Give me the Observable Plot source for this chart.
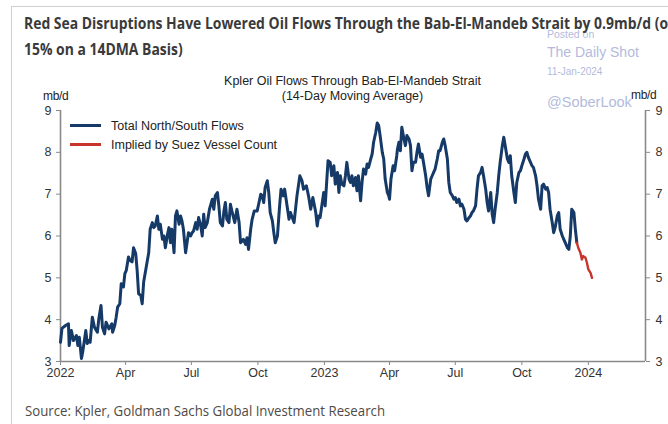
<!DOCTYPE html>
<html>
<head>
<meta charset="utf-8">
<script src="https://cdn.jsdelivr.net/npm/d3@7"></script>
<script src="https://cdn.jsdelivr.net/npm/@observablehq/plot@0.6"></script>
<style>
  html, body { margin: 0; padding: 0; background: #fff; }
  body { width: 668px; height: 424px; position: relative; overflow: hidden;
         font-family: "Liberation Sans", Arial, sans-serif; }
  #frame { position: absolute; left: 11px; top: 6px; width: 700px; height: 460px;
           border-top: 1px solid #cfcfcf; border-left: 1px solid #cfcfcf; }
  .gs { font-family: "Open Sans", "Noto Sans", "Liberation Sans", sans-serif; transform-origin: 0 0; }
  #title { position: absolute; left: 24px; top: 10px; z-index: 3;
           font-size: 15.5px; font-weight: bold; line-height: 26px; color: #3a3a3a; white-space: nowrap; }
  #title div { white-space: nowrap; }
  .wm { position: absolute; left: 547px; color: #b3bbdd; white-space: nowrap; z-index: 1; }
  #chart { position: absolute; left: 0; top: 66px; z-index: 2; }
  .sub { position: absolute; left: 60px; width: 585px; text-align: center; font-size: 12.5px; color: #222; z-index: 4; }
  .unit { position: absolute; font-size: 12px; color: #222; letter-spacing: -0.3px; z-index: 4; }
  .leg { position: absolute; left: 70px; font-size: 12.5px; color: #222; z-index: 4; white-space: nowrap; }
  .leg span.sw { display: inline-block; width: 31px; height: 2.6px; vertical-align: middle; margin-right: 10px; position: relative; top: -1px; }
  #source { position: absolute; left: 25px; top: 401px; font-size: 14px; color: #4f4a46; white-space: nowrap; z-index: 4; }
</style>
</head>
<body>
<div id="frame"></div>
<div class="wm" style="top:28px;font-size:10.5px;">Posted on</div>
<div class="wm" style="top:44px;font-size:14px;">The Daily Shot</div>
<div class="wm" style="top:66px;font-size:10px;">11-Jan-2024</div>
<div class="wm" style="top:94px;font-size:14.5px;">@SoberLook</div>
<div id="title" class="gs"></div>
<div id="chart"></div>
<div class="sub" style="top:74px;">Kpler Oil Flows Through Bab-El-Mandeb Strait</div>
<div class="sub" style="top:89px;">(14-Day Moving Average)</div>
<div class="unit" style="left:43px;top:89px;">mb/d</div>
<div class="unit" style="left:631px;top:88px;">mb/d</div>
<div id="legend"></div>
<div id="source" class="gs"></div>
<script>
// Text
const titleLines = [
  "Red Sea Disruptions Have Lowered Oil Flows Through the Bab-El-Mandeb Strait by 0.9mb/d (or",
  "15% on a 14DMA Basis)"
];
const sourceText = "Source: Kpler, Goldman Sachs Global Investment Research";
const seriesNames = ["Total North/South Flows", "Implied by Suez Vessel Count"];
const seriesColors = ["#153a68", "#c8352c"];

// Axis ticks
const yTicks = [3, 4, 5, 6, 7, 8, 9];
const xTickDates = ["2022-01-01", "2022-04-01", "2022-07-01", "2022-10-01", "2023-01-01",
                    "2023-04-01", "2023-07-01", "2023-10-01", "2024-01-01"];
const xTickLabels = ["2022", "Apr", "Jul", "Oct", "2023", "Apr", "Jul", "Oct", "2024"];
const xDomain = ["2022-01-01", "2024-03-20"];

// Total North/South flows, 14-day moving average (mb/d), by days since 1 Jan 2022
const totalDays = [0,2,7,11,12,15,18,22,24,26,29,31,35,37,39,41,44,47,51,53,56,58,61,63,67,71,72,75,77,79,
  82,84,87,89,91,94,96,99,101,104,106,108,111,113,115,120,122,124,127,129,131,134,136,138,141,143,145,148,150,152,
  154,157,159,161,164,166,168,170,173,175,177,180,182,184,187,189,191,194,196,198,200,203,206,210,212,214,217,219,221,224,
  226,228,230,233,235,237,241,244,247,249,253,256,258,260,263,265,268,272,274,277,279,281,283,286,288,290,293,295,297,300,
  303,305,308,310,312,316,318,323,327,331,334,336,340,343,346,349,353,355,357,359,364,366,370,373,375,378,380,383,385,387,
  389,392,394,396,399,401,403,405,408,410,412,415,417,419,422,424,426,429,431,433,436,438,440,442,445,447,449,452,454,455,
  457,460,462,465,466,468,470,472,475,477,479,482,484,486,488,491,493,495,498,500,502,505,507,509,512,514,516,518,521,523,
  525,528,530,532,535,537,539,542,544,546,548,551,553,555,558,560,562,565,567,569,571,574,576,578,581,583,585,588,590,592,
  595,597,599,601,604,606,608,611,613,615,618,620,622,624,627,629,631,634,636,638,641,643,645,647,650,652,654,657,659,661,
  664,666,668,671,673,675,677,680,682,684,687,689,691,694,696,698,701,703,705,707,710,712,714];
const totalFlows = [3.46,3.79,3.86,3.9,3.38,3.74,3.5,3.62,3.38,3.58,3.07,3.26,3.74,3.43,3.5,3.46,4.06,3.82,3.7,4.02,
  4.34,3.82,3.66,3.94,3.78,3.9,3.7,3.86,4.06,4.3,4.38,4.86,4.78,5.1,5.18,5.5,5.42,5.38,5.72,5.58,
  5.18,4.62,4.58,4.38,4.9,5.4,5.6,6.16,6.32,6.2,6.24,6.48,6.16,6.28,5.92,6.0,5.72,6.04,6.2,5.84,
  6.16,5.6,6.48,6.6,6.28,6.48,6.36,6.16,5.6,5.84,6.08,6.0,6.08,6.12,6.32,6.16,6.44,6.24,6.0,6.52,
  6.2,6.32,6.64,6.88,6.64,6.96,7.04,6.72,6.32,6.24,6.6,6.8,6.4,6.32,6.76,6.6,6.32,6.64,6.32,5.84,
  5.92,5.8,5.96,5.68,6.16,6.4,6.6,6.6,6.76,7.0,6.96,6.8,7.16,7.32,7.04,6.56,6.36,6.08,5.84,6.0,
  6.72,7.12,6.96,7.12,6.88,6.4,6.56,6.32,6.96,7.44,7.32,7.12,7.2,6.96,6.64,6.92,6.56,6.24,6.48,6.44,
  7.04,6.72,7.8,7.76,7.44,7.68,7.24,7.52,7.04,7.44,7.24,7.2,7.44,7.76,7.36,7.28,7.44,7.2,7.4,7.08,
  7.44,6.84,7.28,7.6,7.48,7.72,7.64,7.84,7.96,8.24,8.48,8.7,8.64,8.4,8.0,7.84,7.36,7.04,6.96,6.88,
  7.36,7.68,7.56,7.92,8.08,8.24,8.04,8.6,8.32,8.16,8.4,8.32,8.16,7.56,7.76,7.76,8.0,8.2,7.88,7.96,
  7.76,7.44,7.16,6.96,7.36,7.44,7.52,7.6,7.84,8.04,8.04,8.24,8.32,8.16,7.84,7.28,7.04,6.96,6.88,6.92,
  6.8,6.88,6.72,6.76,6.64,6.4,6.36,6.44,6.48,6.56,6.6,6.72,7.12,7.44,7.52,7.64,7.44,7.12,6.8,6.6,
  7.04,6.52,6.32,6.64,7.04,7.44,7.76,8.16,8.36,8.16,7.84,7.76,7.92,7.44,7.04,6.8,7.28,7.52,7.56,7.68,
  7.84,7.96,8.0,7.88,7.76,7.68,7.64,7.44,7.2,6.88,6.64,7.2,7.24,7.12,7.16,7.04,6.64,6.32,6.08,6.2,
  6.48,6.56,6.16,6.0,5.92,5.84,5.72,5.68,6.0,6.64,6.56,6.16,5.84];

// Flows implied by Suez vessel count (mb/d)
const suezDays = [714,716,719,721,723,726,728,730,733,735];
const suezFlows = [5.84,5.72,5.6,5.44,5.52,5.48,5.36,5.2,5.12,5.0];

// Build tables
const origin = new Date(Date.UTC(2022, 0, 1));
const toDate = d => d3.utcDay.offset(origin, d);
const total = totalDays.map((d, i) => ({date: toDate(d), value: totalFlows[i]}));
const suez = suezDays.map((d, i) => ({date: toDate(d), value: suezFlows[i]}));
const tickDates = xTickDates.map(s => new Date(s + "T00:00:00Z"));
const domain = xDomain.map(s => new Date(s + "T00:00:00Z"));
const labelFor = d => xTickLabels[tickDates.findIndex(t => +t === +d)];

const axisColor = "#8a8a8a";

const chart = Plot.plot({
  width: 668,
  height: 330,
  marginTop: 44,
  marginBottom: 35,
  marginLeft: 60,
  marginRight: 23,
  style: {fontFamily: "'Liberation Sans', Arial, sans-serif", fontSize: "12.5px", color: "#333", background: "transparent", overflow: "visible"},
  x: {type: "utc", domain},
  y: {domain: [yTicks[0], yTicks[yTicks.length - 1]]},
  marks: [
    Plot.axisX({ticks: tickDates, tickFormat: labelFor, tickSize: 4, tickPadding: 3, stroke: axisColor, label: null, fill: "#333"}),
    Plot.axisY({anchor: "left", ticks: yTicks, tickFormat: d => String(d), tickSize: 4, tickPadding: 5, stroke: axisColor, label: null, fill: "#333"}),
    Plot.axisY({anchor: "right", ticks: yTicks, tickFormat: d => String(d), tickSize: 4, tickPadding: 6, stroke: axisColor, label: null, fill: "#333"}),
    Plot.ruleY([yTicks[0]], {stroke: axisColor, strokeWidth: 1.6}),
    Plot.ruleX(domain, {stroke: axisColor, strokeWidth: 1.6}),
    Plot.line(total, {x: "date", y: "value", stroke: seriesColors[0], strokeWidth: 3, strokeLinejoin: "round"}),
    Plot.line(suez, {x: "date", y: "value", stroke: seriesColors[1], strokeWidth: 2.4, strokeLinejoin: "round"})
  ]
});
document.getElementById("chart").append(chart);

// Title: condensed to fit the first line across the panel
const title = document.getElementById("title");
titleLines.forEach(line => {
  const row = document.createElement("div");
  row.textContent = line;
  title.append(row);
});
const probe = document.createElement("span");
probe.textContent = titleLines[0].slice(0, -1);
probe.style.cssText = "position:absolute;visibility:hidden;white-space:nowrap;";
title.append(probe);
const titleScale = 644 / probe.getBoundingClientRect().width;
probe.remove();
title.style.transform = `scaleX(${titleScale})`;

// Source line, condensed the same way
const source = document.getElementById("source");
source.textContent = sourceText;
source.style.display = "inline-block";
const srcScale = 360 / source.getBoundingClientRect().width;
source.style.transform = `scaleX(${srcScale})`;

// Legend
const legend = document.getElementById("legend");
seriesNames.forEach((name, i) => {
  const row = document.createElement("div");
  row.className = "leg";
  row.style.top = (119 + i * 19) + "px";
  const sw = document.createElement("span");
  sw.className = "sw";
  sw.style.background = seriesColors[i];
  row.append(sw, document.createTextNode(name));
  legend.append(row);
});
</script>
</body>
</html>
